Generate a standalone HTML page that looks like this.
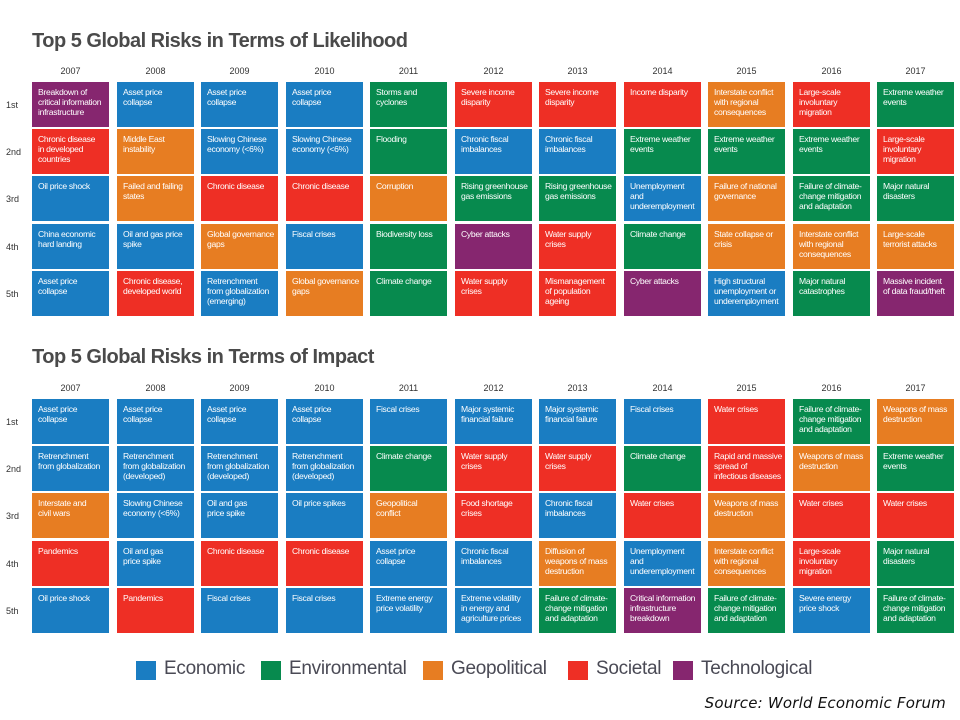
<!DOCTYPE html>
<html><head><meta charset="utf-8"><style>
body{margin:0;width:960px;height:720px;background:#fff;position:relative;overflow:hidden;font-family:"Liberation Sans",Arial,sans-serif}
.t{position:absolute;left:32px;font-size:20px;font-weight:bold;color:#4a4a4a;letter-spacing:-0.5px}
.y{position:absolute;width:77px;text-align:center;font-size:9px;color:#333}
.r{position:absolute;left:6px;font-size:9px;color:#333}
.c{position:absolute;width:77px;box-sizing:border-box;padding:5px 0 0 6px;font-size:8.6px;line-height:10px;color:#fff;letter-spacing:-0.3px;white-space:nowrap;overflow:hidden}
.E{background:#1a7dc2}.N{background:#078a4e}.G{background:#e77d22}.S{background:#ee2f25}.T{background:#86266f}
.lg{position:absolute;top:661px;width:20px;height:19px}
.lt{position:absolute;top:658px;font-size:19px;color:#4a4a55;letter-spacing:-0.3px}
.src{position:absolute;right:14px;top:694px;font-size:15px;font-style:italic;color:#111;font-family:"DejaVu Sans","Liberation Sans",sans-serif;letter-spacing:0.2px}
</style></head><body>
<div class="t" style="top:30px">Top 5 Global Risks in Terms of Likelihood</div>
<div class="t" style="top:346px">Top 5 Global Risks in Terms of Impact</div>
<div id="g"></div>
<div class="lg E" style="left:136px"></div><div class="lt" style="left:164px">Economic</div>
<div class="lg N" style="left:261px"></div><div class="lt" style="left:289px">Environmental</div>
<div class="lg G" style="left:423px"></div><div class="lt" style="left:451px">Geopolitical</div>
<div class="lg S" style="left:568px"></div><div class="lt" style="left:596px">Societal</div>
<div class="lg T" style="left:673px"></div><div class="lt" style="left:701px">Technological</div>
<div class="src">Source: World Economic Forum</div>
<script>
var AP="Asset price|collapse",SC="Slowing Chinese|economy (&lt;6%)",CF="Chronic fiscal|imbalances",FC="Failure of climate-|change mitigation|and adaptation",IC="Interstate conflict|with regional|consequences",EW="Extreme weather|events",LS="Large-scale|involuntary|migration",RD="Retrenchment|from globalization|(developed)",WM="Weapons of mass|destruction";
var L=[
[["T","Breakdown of|critical information|infrastructure"],["S","Chronic disease|in developed|countries"],["E","Oil price shock"],["E","China economic|hard landing"],["E",AP]],
[["E",AP],["G","Middle East|instability"],["G","Failed and failing|states"],["E","Oil and gas price|spike"],["S","Chronic disease,|developed world"]],
[["E",AP],["E",SC],["S","Chronic disease"],["G","Global governance|gaps"],["E","Retrenchment|from globalization|(emerging)"]],
[["E",AP],["E",SC],["S","Chronic disease"],["E","Fiscal crises"],["G","Global governance|gaps"]],
[["N","Storms and|cyclones"],["N","Flooding"],["G","Corruption"],["N","Biodiversity loss"],["N","Climate change"]],
[["S","Severe income|disparity"],["E",CF],["N","Rising greenhouse|gas emissions"],["T","Cyber attacks"],["S","Water supply|crises"]],
[["S","Severe income|disparity"],["E",CF],["N","Rising greenhouse|gas emissions"],["S","Water supply|crises"],["S","Mismanagement|of population|ageing"]],
[["S","Income disparity"],["N",EW],["E","Unemployment|and|underemployment"],["N","Climate change"],["T","Cyber attacks"]],
[["G",IC],["N",EW],["G","Failure of national|governance"],["G","State collapse or|crisis"],["E","High structural|unemployment or|underemployment"]],
[["S",LS],["N",EW],["N",FC],["G",IC],["N","Major natural|catastrophes"]],
[["N",EW],["S",LS],["N","Major natural|disasters"],["G","Large-scale|terrorist attacks"],["T","Massive incident|of data fraud/theft"]]];
var I=[
[["E",AP],["E","Retrenchment|from globalization"],["G","Interstate and|civil wars"],["S","Pandemics"],["E","Oil price shock"]],
[["E",AP],["E",RD],["E",SC],["E","Oil and gas|price spike"],["S","Pandemics"]],
[["E",AP],["E",RD],["E","Oil and gas|price spike"],["S","Chronic disease"],["E","Fiscal crises"]],
[["E",AP],["E",RD],["E","Oil price spikes"],["S","Chronic disease"],["E","Fiscal crises"]],
[["E","Fiscal crises"],["N","Climate change"],["G","Geopolitical|conflict"],["E",AP],["E","Extreme energy|price volatility"]],
[["E","Major systemic|financial failure"],["S","Water supply|crises"],["S","Food shortage|crises"],["E",CF],["E","Extreme volatility|in energy and|agriculture prices"]],
[["E","Major systemic|financial failure"],["S","Water supply|crises"],["E",CF],["G","Diffusion of|weapons of mass|destruction"],["N",FC]],
[["E","Fiscal crises"],["N","Climate change"],["S","Water crises"],["E","Unemployment|and|underemployment"],["T","Critical information|infrastructure|breakdown"]],
[["S","Water crises"],["S","Rapid and massive|spread of|infectious diseases"],["G",WM],["G",IC],["N",FC]],
[["N",FC],["G",WM],["S","Water crises"],["S",LS],["E","Severe energy|price shock"]],
[["G",WM],["N",EW],["S","Water crises"],["N","Major natural|disasters"],["N",FC]]];
var h="",rk=["1st","2nd","3rd","4th","5th"];
function grid(D,top,yl){
 for(var c=0;c<11;c++){var x=Math.round(32+c*84.5);
  h+='<div class="y" style="left:'+x+'px;top:'+yl+'px">'+(2007+c)+'</div>';
  for(var r=0;r<5;r++){var y=Math.round(top+r*47.2);
   h+='<div class="c '+D[c][r][0]+'" style="left:'+x+'px;top:'+y+'px;height:45px">'+D[c][r][1].split("|").join("<br>")+'</div>';}}
 for(var r=0;r<5;r++)h+='<div class="r" style="top:'+Math.round(top+r*47.2+18)+'px">'+rk[r]+'</div>';
}
grid(L,82,66);grid(I,399,383);
document.getElementById("g").innerHTML=h;
</script>
</body></html>
